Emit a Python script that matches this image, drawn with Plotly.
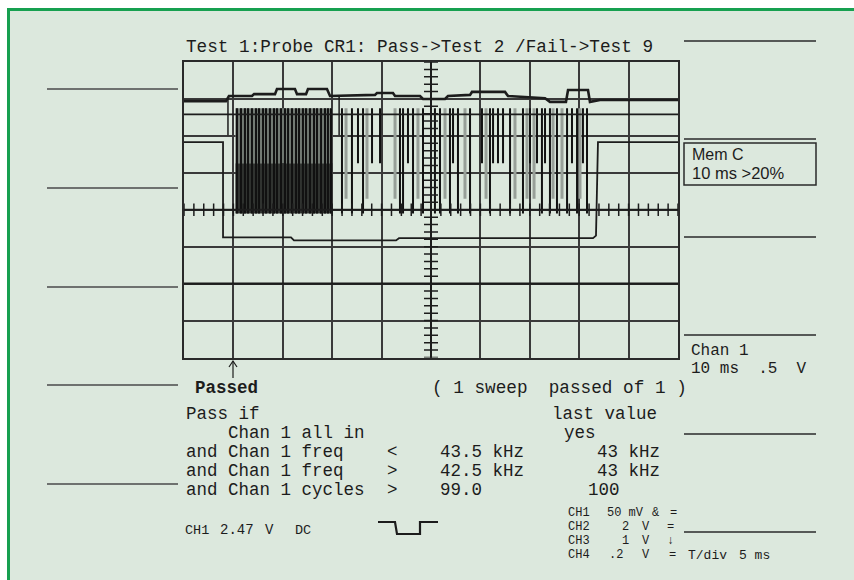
import plotly.graph_objects as go

# ---------------- data (time in ms, amplitude in screen divisions) ----------------
top_t = [0, 4.25, 4.55, 6.88, 7.09, 9.21, 9.41, 11.23, 11.44, 12.35, 12.55, 14.47, 14.78,
         19.33, 19.53, 21.15, 21.36, 23.89, 24.19, 26.42, 26.72, 28.95, 29.15, 32.49, 32.79,
         36.54, 37.04, 38.66, 38.87, 40.89, 41.09, 42.11, 50]
top_v = [2.94, 2.94, 3.08, 3.08, 3.13, 3.13, 3.27, 3.27, 3.13, 3.13, 3.27, 3.27, 3.08,
         3.11, 3.16, 3.16, 3.08, 3.08, 3.00, 3.00, 3.08, 3.11, 3.19, 3.19, 3.08,
         3.02, 2.92, 2.92, 3.24, 3.24, 2.92, 2.97, 2.97]

gate_t = [0, 3.95, 3.95, 10.83, 11.13, 21.46, 21.76, 41.40, 41.70, 41.90, 50]
gate_v = [1.83, 1.83, -0.75, -0.75, -0.83, -0.83, -0.77, -0.77, -0.70, 1.83, 1.83]

baseline_t = [0, 50]
baseline_v = [2.58, 2.58]
ch4_t = [0, 50]
ch4_v = [-2.0, -2.0]

burst_top = 2.75
burst_mid = 1.26
burst_low = -0.10
dense_start, dense_end = 5.2, 15.0
dense_t = [5.36, 5.77, 6.17, 6.48, 6.88, 7.29, 7.59, 8.00, 8.30, 8.70, 9.11, 9.41, 9.82,
           10.22, 10.53, 10.93, 11.34, 11.64, 12.04, 12.35, 12.75, 13.16, 13.46, 13.87,
           14.27, 14.57, 14.88]
spike_t = [15.99, 17.00, 17.61, 18.12, 19.03, 19.84, 21.86, 22.17, 22.67, 23.18, 24.19,
           25.40, 25.91, 26.92, 27.23, 27.73, 28.95, 30.16, 30.97, 31.28, 31.78, 32.29,
           33.00, 34.31, 35.02, 35.73, 36.23, 36.54, 37.04, 37.75, 38.77, 39.27, 39.78,
           40.38, 40.79]
spike_low = [-0.10, -0.10, 1.26, -0.10, 1.26, 1.26, -0.10, -0.10, 1.26, -0.10, -0.10,
             -0.10, -0.10, -0.10, 1.26, -0.10, -0.10, 1.26, -0.10, 1.26, 1.26, 1.26,
             -0.10, -0.10, 1.26, 1.26, -0.10, 1.26, -0.10, -0.10, -0.10, 1.26, -0.10,
             1.26, -0.10]
grey_t = [16.40, 18.52, 21.36, 23.68, 26.42, 28.44, 30.57, 33.50, 34.72, 35.43, 37.35,
          38.26, 40.08]
trig_t = [4.45, 15.70]
trig_top = [3.05, 3.10]
trig_low = [2.02, 2.02]

title = "Test 1:Probe CR1: Pass->Test 2 /Fail->Test 9"

W, H = 854, 580
INK = "#1c1c1c"
BG = "#dce8dd"
MONO = "Liberation Mono"


def px(x):
    return x / W


def py(y):
    return 1 - y / H


def segs(ts, tops, lows):
    xs, ys = [], []
    for t, a, b in zip(ts, tops, lows):
        xs += [t, t, None]
        ys += [a, b, None]
    return xs, ys


fig = go.Figure()

# dense burst body
fig.add_trace(go.Scatter(x=[dense_start, dense_end, dense_end, dense_start],
                         y=[burst_top, burst_top, burst_mid, burst_mid], fill="toself",
                         fillcolor="#737b74", line=dict(width=0), mode="lines", hoverinfo="skip"))
fig.add_trace(go.Scatter(x=[dense_start, dense_end, dense_end, dense_start],
                         y=[burst_mid, burst_mid, burst_low, burst_low], fill="toself",
                         fillcolor="#303330", line=dict(width=0), mode="lines", hoverinfo="skip"))
gx, gy = segs(grey_t, [burst_top] * len(grey_t), [0.3] * len(grey_t))
fig.add_trace(go.Scatter(x=gx, y=gy, mode="lines", line=dict(color="#98a099", width=3), hoverinfo="skip"))
dx, dy = segs(dense_t, [burst_top] * len(dense_t), [burst_low] * len(dense_t))
fig.add_trace(go.Scatter(x=dx, y=dy, mode="lines", line=dict(color="#111", width=2), hoverinfo="skip"))
sx, sy = segs(spike_t, [burst_top] * len(spike_t), spike_low)
fig.add_trace(go.Scatter(x=sx, y=sy, mode="lines", line=dict(color="#111", width=2), hoverinfo="skip"))
tx, ty = segs(trig_t, trig_top, trig_low)
fig.add_trace(go.Scatter(x=tx, y=ty, mode="lines", line=dict(color=INK, width=1.5), hoverinfo="skip"))

fig.add_trace(go.Scatter(x=baseline_t, y=baseline_v, mode="lines", line=dict(color=INK, width=1.8)))
fig.add_trace(go.Scatter(x=ch4_t, y=ch4_v, mode="lines", line=dict(color=INK, width=2.2)))
fig.add_trace(go.Scatter(x=top_t, y=top_v, mode="lines", line=dict(color=INK, width=2.6)))
fig.add_trace(go.Scatter(x=gate_t, y=gate_v, mode="lines", line=dict(color=INK, width=1.8)))

# centre graticule with minor ticks
fig.add_trace(go.Scatter(x=[0, 50], y=[0, 0], mode="lines", line=dict(color=INK, width=2)))
fig.add_trace(go.Scatter(x=[i * 1.0 for i in range(51)], y=[0] * 51, mode="markers",
                         marker=dict(symbol="line-ns", size=9, line=dict(color=INK, width=1.5))))
fig.add_trace(go.Scatter(x=[25, 25], y=[-4, 4], mode="lines", line=dict(color=INK, width=2)))
fig.add_trace(go.Scatter(x=[25] * 41, y=[-4 + 0.2 * i for i in range(41)], mode="markers",
                         marker=dict(symbol="line-ew", size=10, line=dict(color=INK, width=1.5))))

# channel markers outside grid
fig.add_trace(go.Scatter(x=[-0.55], y=[1.5], mode="markers", cliponaxis=False,
                         marker=dict(symbol="triangle-right", size=7, color=INK)))
fig.add_trace(go.Scatter(x=[50.45], y=[1.5], mode="markers", cliponaxis=False,
                         marker=dict(symbol="triangle-left", size=7, color=INK)))

shapes = []
# background panel with green frame
shapes.append(dict(type="rect", xref="paper", yref="paper", x0=px(8.5), y0=py(9.5), x1=px(880),
                   y1=py(600), fillcolor=BG, line=dict(color="#17a050", width=3), layer="below"))


def hline(y, x0, x1, color="#3a3a3a", w=1.5):
    shapes.append(dict(type="line", xref="paper", yref="paper", x0=px(x0), x1=px(x1),
                       y0=py(y), y1=py(y), line=dict(color=color, width=w)))


for y in [89, 188, 287, 385, 484]:
    hline(y, 47, 178, "#4a4a4a", 1.5)
for y in [41, 139, 237, 335, 434, 532]:
    hline(y, 684, 816, "#2a2a2a", 1.5)
shapes.append(dict(type="rect", xref="paper", yref="paper", x0=px(684), x1=px(816), y0=py(143),
                   y1=py(185), line=dict(color="#2a2a2a", width=1.5)))
# pulse glyph
pts = [(378, 522), (395, 522), (397, 534), (420, 534), (420, 522), (438, 522)]
path = "M " + " L ".join(f"{px(a):.5f},{py(b):.5f}" for a, b in pts)
shapes.append(dict(type="path", xref="paper", yref="paper", path=path, line=dict(color=INK, width=2.2)))
# arrow under grid
shapes.append(dict(type="line", xref="paper", yref="paper", x0=px(233), x1=px(233), y0=py(361),
                   y1=py(378), line=dict(color=INK, width=1.2)))
path2 = f"M {px(229):.5f},{py(367):.5f} L {px(233):.5f},{py(361):.5f} L {px(237):.5f},{py(367):.5f}"
shapes.append(dict(type="path", xref="paper", yref="paper", path=path2, line=dict(color=INK, width=1.2)))

ann = []


def text(s, x, y, size=17.5, bold=False, family=MONO):
    ann.append(dict(text=f"<b>{s}</b>" if bold else s, x=px(x), y=py(y), xref="paper", yref="paper",
                    xanchor="left", yanchor="middle", showarrow=False,
                    font=dict(family=family, size=size, color=INK)))


R1, R2, R3, R4, R5 = 414, 433, 452, 471, 490
text(title, 184, 47, 17.7)
text("Passed", 193, 388, 17.5, bold=True)
text("( 1 sweep  passed of 1 )", 430, 388, 17.7)
text("Pass if", 184, R1)
text("Chan 1 all in", 226, R2)
text("and Chan 1 freq", 184, R3)
text("and Chan 1 freq", 184, R4)
text("and Chan 1 cycles", 184, R5)
text("&lt;", 385, R3)
text("&gt;", 385, R4)
text("&gt;", 385, R5)
text("43.5 kHz", 438, R3)
text("42.5 kHz", 438, R4)
text("99.0", 438, R5)
text("last value", 550, R1)
text("yes", 562, R2)
text("43 kHz", 595, R3)
text("43 kHz", 595, R4)
text("100", 586, R5)
text("Mem C", 690, 154, 16, family="Liberation Sans")
text("10 ms &gt;20%", 690, 173, 16.5, family="Liberation Sans")
text("Chan 1", 689, 351, 16)
text("10 ms  .5  V", 689, 369, 16)
text("CH1", 183, 530, 13.5)
text("2.47", 218, 530, 14)
text("V", 263, 530, 14)
text("DC", 293, 530, 13.5)
small = 12
for lab, yy in [("CH1", 513), ("CH2", 527), ("CH3", 541), ("CH4", 555)]:
    text(lab, 566, yy, small)
text("50 mV", 605, 513, small)
text("&amp;", 650, 513, small)
text("=", 668, 513, small)
text("2", 620, 527, small)
text("V", 640, 527, small)
text("=", 665, 527, small)
text("1", 620, 541, small)
text("V", 640, 541, small)
text("↓", 665, 541, small)
text(".2", 607, 555, small)
text("V", 640, 555, small)
text("=", 667, 555, small)
text("T/div", 686, 555, 13)
text("5 ms", 737, 555, 13)

fig.update_layout(
    width=W, height=H, margin=dict(l=0, r=0, t=0, b=0),
    paper_bgcolor="white", plot_bgcolor="rgba(0,0,0,0)", showlegend=False,
    shapes=shapes, annotations=ann,
    xaxis=dict(domain=[184 / W, 678 / W], range=[0, 50], dtick=5, tick0=0, showgrid=True,
               gridcolor="#3a3a3a", gridwidth=1.5, zeroline=False, showticklabels=False,
               showline=True, mirror=True, linecolor="#2a2a2a", linewidth=2, ticks=""),
    yaxis=dict(domain=[1 - 357.5 / H, 1 - 62 / H], range=[-4, 4], dtick=1, tick0=0, showgrid=True,
               gridcolor="#3a3a3a", gridwidth=1.5, zeroline=False, showticklabels=False,
               showline=True, mirror=True, linecolor="#2a2a2a", linewidth=2, ticks=""),
)

fig.write_html("out.html", config={"displayModeBar": False},
               post_script="document.body.style.margin='0';")
